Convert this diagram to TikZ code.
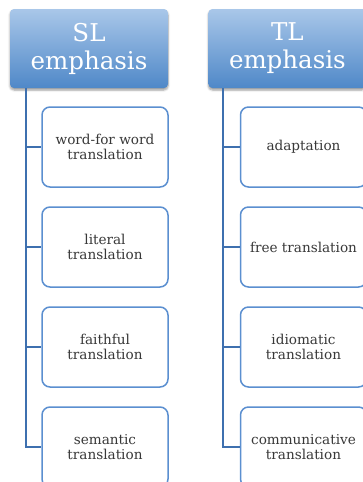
\documentclass[tikz,border=0pt]{standalone}
\usepackage{fontspec}
\setmainfont{DejaVu Serif}
\usetikzlibrary{positioning}
\usetikzlibrary{shadows.blur}
\definecolor{headtop}{HTML}{A9C7E9}
\definecolor{headbot}{HTML}{4F88C8}
\definecolor{boxline}{HTML}{5B8FD0}
\definecolor{trunkblue}{HTML}{3E70AF}
\definecolor{leaftext}{HTML}{383838}
\tikzset{
head/.style={rectangle, rounded corners=4pt, top color=headtop, bottom color=headbot, minimum width=158pt, minimum height=79pt, text=white, align=center, font=\fontsize{24.5}{28}\selectfont, blur shadow={shadow xshift=0pt, shadow yshift=-2pt, shadow blur steps=5}},
leaf/.style={rectangle, rounded corners=8pt, draw=boxline, line width=1.5pt, fill=white, minimum width=126pt, minimum height=80pt, text=leaftext, align=center, font=\fontsize{13.6}{15.5}\selectfont},
link/.style={draw=trunkblue, line width=2pt}
}
\begin{document}
\begin{tikzpicture}[x=1pt, y=-1pt]
    \useasboundingbox (0,0) rectangle (363,482);
    % source language side
    \node[head] (sl_head) at (89,48.5) {SL\\emphasis};
    \node[leaf] (sl_1) at (105,147) {word-for word\\translation};
    \node[leaf] (sl_2) [below=18.5pt of sl_1] {literal\\translation};
    \node[leaf] (sl_3) [below=18.5pt of sl_2] {faithful\\translation};
    \node[leaf] (sl_4) [below=18.5pt of sl_3] {semantic\\translation};
    % target language side
    \node[head] (tl_head) [right=40pt of sl_head] {TL\\emphasis};
    \node[leaf] (tl_1) [right=71pt of sl_1] {adaptation};
    \node[leaf] (tl_2) [below=18.5pt of tl_1] {free translation};
    \node[leaf] (tl_3) [below=18.5pt of tl_2] {idiomatic\\translation};
    \node[leaf] (tl_4) [below=18.5pt of tl_3] {communicative\\translation};
    \coordinate (sl_trunk) at ([xshift=16pt]sl_head.south west);
    \coordinate (tl_trunk) at ([xshift=15pt]tl_head.south west);
    \foreach \i in {1,...,4} {
        \draw[link] (sl_trunk) |- (sl_\i.west);
        \draw[link] (tl_trunk) |- (tl_\i.west);
    }
\end{tikzpicture}
\end{document}
